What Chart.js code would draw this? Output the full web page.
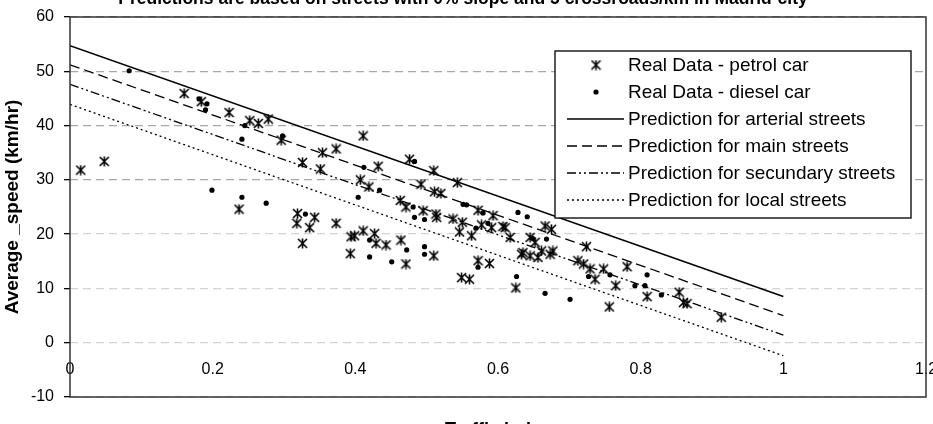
<!DOCTYPE html>
<html>
<head>
<meta charset="utf-8">
<script src="https://cdn.jsdelivr.net/npm/chart.js@4.4.1/dist/chart.umd.min.js"></script>
<style>
html, body { margin: 0; padding: 0; background: #fff; }
#wrap { position: relative; width: 933px; height: 424px; overflow: hidden; }
#wrap canvas { position: absolute; left: 0; top: -16px; }
</style>
</head>
<body>
<div id="wrap"><canvas id="chart" width="933" height="459"></canvas></div>
<script>
// real data, petrol cars
var petrolX = [0.015, 0.048, 0.160, 0.184, 0.223, 0.252, 0.264, 0.278, 0.296, 0.326,
    0.237, 0.319, 0.318, 0.336, 0.326, 0.411, 0.354, 0.373, 0.351, 0.476,
    0.510, 0.543, 0.432, 0.407, 0.419, 0.492, 0.511, 0.520, 0.463, 0.471,
    0.495, 0.513, 0.514, 0.572, 0.593, 0.537, 0.550, 0.546, 0.563, 0.577,
    0.591, 0.607, 0.617, 0.645, 0.652, 0.633, 0.645, 0.656, 0.572, 0.588,
    0.549, 0.560, 0.625, 0.343, 0.373, 0.394, 0.399, 0.411, 0.427, 0.429,
    0.443, 0.464, 0.510, 0.393, 0.471, 0.666, 0.675, 0.677, 0.661, 0.673,
    0.724, 0.712, 0.720, 0.729, 0.748, 0.736, 0.781, 0.765, 0.809, 0.854,
    0.860, 0.865, 0.756, 0.913, 0.610, 0.635];
var petrolY = [31.8, 33.4, 45.9, 44.4, 42.4, 40.9, 40.4, 41.2, 37.3, 33.2,
    24.6, 23.8, 22.0, 21.2, 18.3, 38.1, 35.0, 35.7, 32.0, 33.8,
    31.7, 29.5, 32.5, 30.0, 28.7, 29.2, 27.8, 27.5, 26.2, 25.0,
    24.3, 23.7, 23.1, 24.4, 23.4, 22.8, 22.2, 20.4, 19.7, 21.7,
    21.2, 21.4, 19.4, 19.4, 18.5, 16.3, 16.0, 15.7, 15.1, 14.6,
    12.0, 11.7, 10.1, 23.1, 22.0, 19.5, 19.7, 20.6, 20.1, 18.3,
    18.0, 18.9, 16.0, 16.4, 14.5, 21.5, 20.9, 16.9, 16.9, 16.3,
    17.7, 15.1, 14.5, 13.6, 13.6, 11.7, 14.0, 10.5, 8.5, 9.3,
    7.4, 7.2, 6.6, 4.7, 21.2, 16.6];

// real data, diesel cars
var dieselX = [0.083, 0.181, 0.192, 0.190, 0.245, 0.241, 0.298, 0.199, 0.241, 0.275,
    0.330, 0.483, 0.412, 0.434, 0.404, 0.481, 0.483, 0.497, 0.551, 0.556,
    0.579, 0.628, 0.641, 0.569, 0.586, 0.572, 0.626, 0.420, 0.472, 0.497,
    0.497, 0.420, 0.451, 0.668, 0.649, 0.727, 0.757, 0.809, 0.792, 0.806,
    0.829, 0.666, 0.701];
var dieselY = [50.1, 44.9, 44.0, 42.9, 40.0, 37.5, 38.1, 28.1, 26.8, 25.7,
    23.7, 33.4, 32.3, 28.1, 26.8, 25.0, 23.1, 22.7, 25.5, 25.4,
    23.9, 24.0, 23.2, 21.1, 22.0, 13.9, 12.2, 18.9, 17.1, 17.7,
    16.3, 15.8, 14.9, 19.1, 19.2, 12.2, 12.5, 12.5, 10.5, 10.5,
    8.8, 9.1, 8.0];

// prediction lines, start and end of each
var lineX = [0, 1];
var arterialY = [54.7, 8.5];
var mainY = [51.2, 5.0];
var secundaryY = [47.6, 1.4];
var localY = [43.9, -2.4];

var xTicks = [0, 0.2, 0.4, 0.6, 0.8, 1, 1.2];
var yTicks = [-10, 0, 10, 20, 30, 40, 50, 60];

var FONT = "'Liberation Sans', Arial, sans-serif";

function toPoints(xs, ys) {
    var pts = [];
    for (var i = 0; i < xs.length; i++) {
        pts.push({ x: xs[i], y: ys[i] });
    }
    return pts;
}

// excel-like star marker (X with a vertical bar)
function makeStar(w, h) {
    var c = document.createElement('canvas');
    c.width = w;
    c.height = h;
    var g = c.getContext('2d');
    g.strokeStyle = '#000';
    g.lineWidth = 1.6;
    var m = w / 2;
    g.beginPath();
    g.moveTo(1, 1); g.lineTo(w - 1, h - 1);
    g.moveTo(w - 1, 1); g.lineTo(1, h - 1);
    g.moveTo(m, 0.5); g.lineTo(m, h - 0.5);
    g.stroke();
    return c;
}
var star = makeStar(11, 11);

function predictionSet(label, ys, dash, width) {
    return {
        label: label,
        data: toPoints(lineX, ys),
        showLine: true,
        borderColor: '#000',
        borderWidth: width,
        borderDash: dash,
        pointRadius: 0,
        fill: false
    };
}

// frame of the plot and the boxed legend
var framePlugin = {
    id: 'frameAndLegend',
    afterDraw: function(chart) {
        var ctx = chart.ctx;
        var area = chart.chartArea;
        ctx.save();
        ctx.strokeStyle = '#333';
        ctx.lineWidth = 1.5;
        ctx.strokeRect(area.left, area.top, area.right - area.left, area.bottom - area.top);

        var lx = 555, ly = area.top + 34, lw = 356, lh = 167, row = 27;
        ctx.fillStyle = '#fff';
        ctx.fillRect(lx, ly, lw, lh);
        ctx.strokeStyle = '#111';
        ctx.lineWidth = 1.4;
        ctx.strokeRect(lx, ly, lw, lh);

        var sets = chart.data.datasets;
        ctx.font = '19px ' + FONT;
        ctx.textBaseline = 'middle';
        ctx.textAlign = 'left';
        for (var i = 0; i < sets.length; i++) {
            var ds = sets[i];
            var cy = ly + 14 + i * row;
            if (ds.showLine) {
                ctx.setLineDash(ds.borderDash || []);
                ctx.strokeStyle = '#000';
                ctx.lineWidth = ds.borderWidth;
                ctx.beginPath();
                ctx.moveTo(567, cy);
                ctx.lineTo(624, cy);
                ctx.stroke();
                ctx.setLineDash([]);
            } else if (ds.pointStyle === star) {
                ctx.drawImage(star, 596 - star.width / 2, cy - star.height / 2);
            } else {
                ctx.fillStyle = '#000';
                ctx.beginPath();
                ctx.arc(596, cy, ds.pointRadius, 0, Math.PI * 2);
                ctx.fill();
            }
            ctx.fillStyle = '#000';
            ctx.fillText(ds.label, 628, cy + 1);
        }
        ctx.restore();
    }
};

function gridColor(ctx) {
    var v = ctx.tick ? ctx.tick.value : 0;
    if (v >= 30) return '#a8a8a8';
    return '#d4d4d4';
}

var chart = new Chart(document.getElementById('chart'), {
    type: 'scatter',
    data: {
        datasets: [
            {
                label: 'Real Data - petrol car',
                data: toPoints(petrolX, petrolY),
                pointStyle: star,
                pointRadius: 5,
                showLine: false
            },
            {
                label: 'Real Data - diesel car',
                data: toPoints(dieselX, dieselY),
                pointStyle: 'circle',
                pointRadius: 2.6,
                backgroundColor: '#000',
                borderColor: '#000',
                borderWidth: 0,
                showLine: false
            },
            predictionSet('Prediction for arterial streets', arterialY, [], 1.5),
            predictionSet('Prediction for main streets', mainY, [10, 5], 1.3),
            predictionSet('Prediction for secundary streets', secundaryY, [9, 3, 2, 3, 2, 3], 1.3),
            predictionSet('Prediction for local streets', localY, [2, 3], 1.3)
        ]
    },
    options: {
        responsive: false,
        animation: false,
        devicePixelRatio: 1,
        layout: { padding: { left: 0, right: 7, top: 0, bottom: 0 } },
        plugins: {
            legend: { display: false },
            tooltip: { enabled: false },
            title: {
                display: true,
                text: 'Predictions are based on streets with 0% slope and 5 crossroads/km in Madrid-city',
                color: '#000',
                font: { family: FONT, size: 17.5, weight: 'bold' },
                padding: { top: 5, bottom: 7 }
            },
            subtitle: {
                display: true,
                position: 'bottom',
                fullSize: false,
                text: 'Traffic index',
                color: '#000',
                font: { family: FONT, size: 18, weight: 'bold' },
                padding: { top: 22, bottom: 2.4 }
            }
        },
        scales: {
            x: {
                type: 'linear',
                position: { y: 0 },
                min: 0,
                max: 1.2,
                afterBuildTicks: function(scale) {
                    scale.ticks = xTicks.map(function(v) { return { value: v }; });
                },
                afterFit: function(scale) {
                    scale.paddingLeft = 0;
                    scale.paddingRight = 0;
                },
                ticks: {
                    color: '#000',
                    font: { family: FONT, size: 16 },
                    padding: 9,
                    maxRotation: 0,
                    callback: function(v) { return String(Math.round(v * 10) / 10); }
                },
                grid: { display: false },
                border: { display: false }
            },
            y: {
                min: -10,
                max: 60,
                afterBuildTicks: function(scale) {
                    scale.ticks = yTicks.map(function(v) { return { value: v }; });
                },
                afterFit: function(scale) {
                    scale.width = 70;
                },
                ticks: {
                    color: '#000',
                    font: { family: FONT, size: 16 },
                    padding: 10
                },
                grid: {
                    color: gridColor,
                    lineWidth: 1.3,
                    tickColor: '#000',
                    tickLength: 6,
                    tickBorderDash: []
                },
                border: { display: false, dash: [8, 5] },
                title: {
                    display: true,
                    text: 'Average _speed (km/hr)',
                    color: '#000',
                    font: { family: FONT, size: 19, weight: 'bold' },
                    padding: { top: 1, bottom: 1 }
                }
            }
        }
    },
    plugins: [framePlugin]
});
</script>
</body>
</html>
